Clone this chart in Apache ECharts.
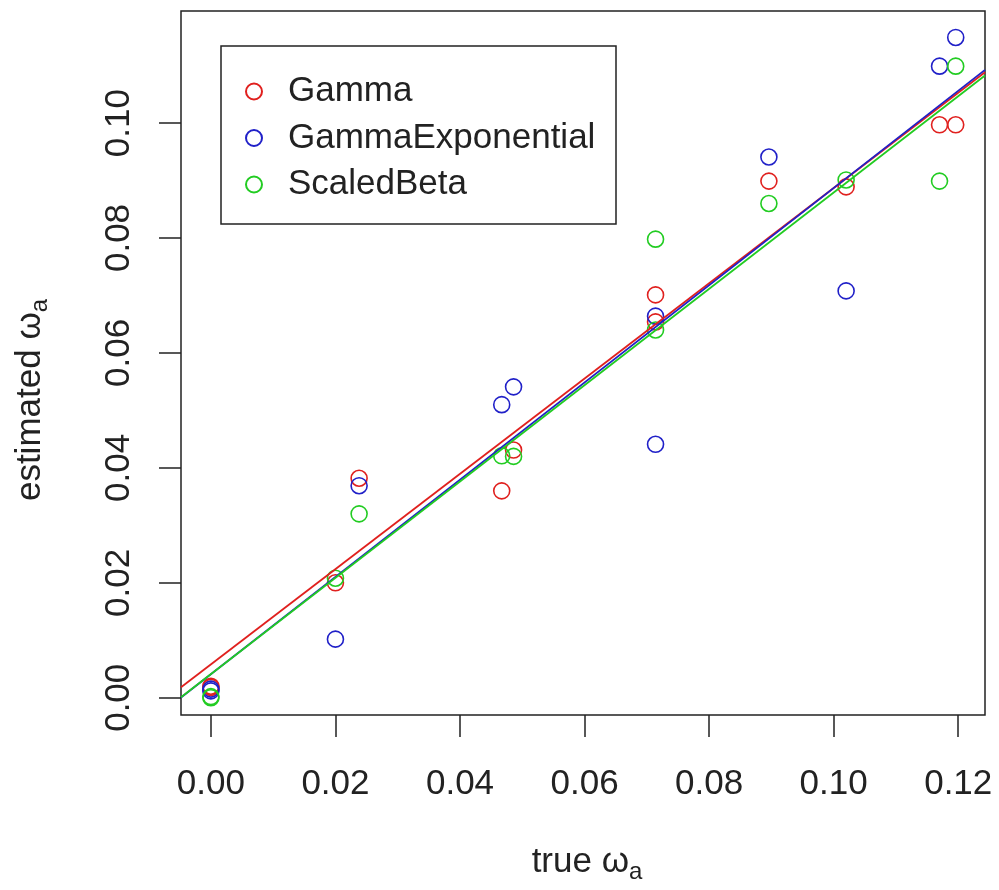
<!DOCTYPE html>
<html>
<head>
<meta charset="utf-8">
<script src="https://cdn.jsdelivr.net/npm/echarts@6.0.0/dist/echarts.min.js"></script>
<style>
html, body { margin: 0; padding: 0; background: #fff; }
#chart { width: 999px; height: 890px; }
</style>
</head>
<body>
<div id="chart"></div>
<script>
// true omega_a values (x) shared by the three estimators
const trueOmega = [0, 0, 0.02, 0.0238, 0.0467, 0.0486, 0.0714, 0.0714, 0.0896, 0.102, 0.117, 0.1196]
const gammaEst = [0.002, 0.0018, 0.020, 0.0382, 0.036, 0.0431, 0.0701, 0.0654, 0.0899, 0.0889, 0.0997, 0.0997]
const gammaExpEst = [0.0015, 0.0012, 0.0102, 0.0369, 0.051, 0.0541, 0.0664, 0.0441, 0.0941, 0.0708, 0.1099, 0.1149]
const scaledBetaEst = [0.0, 0.0002, 0.0208, 0.032, 0.0421, 0.042, 0.0798, 0.064, 0.086, 0.0901, 0.0899, 0.1099]

// fitted lines (abline): [intercept, slope]
const gammaFit = [0.0058, 0.829]
const gammaExpFit = [0.0041, 0.846]
const scaledBetaFit = [0.0041, 0.838]

const seriesNames = ['Gamma', 'GammaExponential', 'ScaledBeta']
const xTicks = [0, 0.02, 0.04, 0.06, 0.08, 0.10, 0.12]
const yTicks = [0, 0.02, 0.04, 0.06, 0.08, 0.10]

const colors = ['#e0201e', '#2020c8', '#22cc22']
const xMin = -0.0048
const xMax = 0.1243
const yMin = -0.003
const yMax = 0.1195
const font = 'Liberation Sans, Arial, sans-serif'

const pairs = (ys) => trueOmega.map((x, i) => [x, ys[i]])
const fitLine = (fit) => [xMin, xMax].map((x) => [x, fit[0] + fit[1] * x])

const estimates = [gammaEst, gammaExpEst, scaledBetaEst]
const fits = [gammaFit, gammaExpFit, scaledBetaFit]

const scatterSeries = estimates.map((ys, i) => ({
  name: seriesNames[i],
  type: 'scatter',
  data: pairs(ys),
  symbol: 'circle',
  symbolSize: 16,
  itemStyle: {
    color: 'rgba(0,0,0,0)',
    borderColor: colors[i],
    borderWidth: 1.6,
    opacity: 1
  },
  emphasis: { disabled: true }
}))

const lineSeries = fits.map((fit, i) => ({
  name: seriesNames[i] + ' fit',
  type: 'line',
  data: fitLine(fit),
  symbol: 'none',
  clip: true,
  lineStyle: { color: colors[i], width: 1.8 },
  emphasis: { disabled: true }
}))

const axisCommon = {
  type: 'value',
  axisLine: { show: false, onZero: false },
  splitLine: { show: false },
  axisTick: {
    show: true,
    inside: false,
    length: 22,
    lineStyle: { color: '#222', width: 1.5 }
  }
}

const titleRich = {
  m: { fontFamily: font, fontSize: 35 },
  s: { fontFamily: font, fontSize: 24, padding: [20, 0, 0, 0] }
}

const chart = echarts.init(document.getElementById('chart'))
chart.setOption({
  animation: false,
  backgroundColor: '#fff',
  grid: {
    left: 181,
    right: 14,
    top: 11,
    bottom: 175,
    show: true,
    borderColor: '#222',
    borderWidth: 1.5,
    outerBoundsMode: 'none'
  },
  xAxis: {
    ...axisCommon,
    min: xMin,
    max: xMax,
    axisTick: { ...axisCommon.axisTick, customValues: xTicks },
    axisLabel: {
      customValues: xTicks,
      formatter: (v) => v.toFixed(2),
      fontFamily: font,
      fontSize: 35,
      lineHeight: 35,
      color: '#222',
      margin: 52
    }
  },
  yAxis: {
    ...axisCommon,
    min: yMin,
    max: yMax,
    axisTick: { ...axisCommon.axisTick, customValues: yTicks },
    axisLabel: {
      customValues: yTicks,
      formatter: (v) => v.toFixed(2),
      rotate: 90,
      fontFamily: font,
      fontSize: 35,
      lineHeight: 35,
      color: '#222',
      margin: 44
    }
  },
  legend: {
    data: seriesNames,
    orient: 'vertical',
    left: 245,
    top: 74,
    padding: 0,
    itemWidth: 16,
    itemHeight: 16,
    itemGap: 11.5,
    selectedMode: false,
    textStyle: {
      fontFamily: font,
      fontSize: 35,
      lineHeight: 34,
      color: '#222',
      padding: [0, 0, 0, 21]
    }
  },
  graphic: [
    {
      type: 'rect',
      shape: { x: 221, y: 46, width: 395, height: 178 },
      style: { fill: 'none', stroke: '#222', lineWidth: 1.5 },
      z: 10
    },
    {
      type: 'text',
      x: 587,
      y: 862,
      style: {
        text: '{m|true ω}{s|a}',
        align: 'center',
        verticalAlign: 'middle',
        fill: '#222',
        rich: titleRich
      }
    },
    {
      type: 'text',
      x: 30,
      y: 400,
      rotation: Math.PI / 2,
      style: {
        text: '{m|estimated ω}{s|a}',
        align: 'center',
        verticalAlign: 'middle',
        fill: '#222',
        rich: titleRich
      }
    }
  ],
  series: [...scatterSeries, ...lineSeries]
})
</script>
</body>
</html>
